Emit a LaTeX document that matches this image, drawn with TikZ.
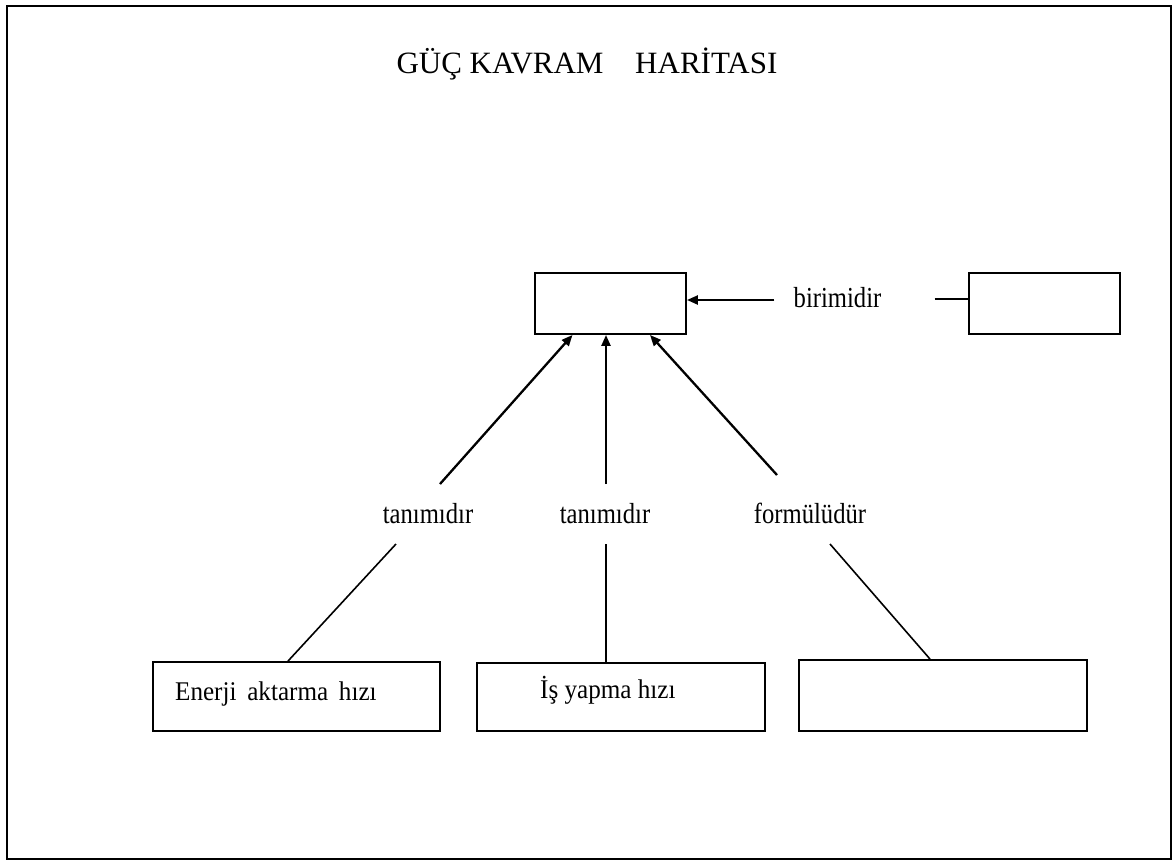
\documentclass[tikz,border=0pt]{standalone}
\usepackage{fontspec}
\setmainfont{Liberation Serif}
\newfontfamily\condfont[FakeStretch=0.85]{Liberation Serif}
\newfontfamily\boxfont[FakeStretch=0.93]{Liberation Serif}
\usetikzlibrary{arrows.meta}
\begin{document}
\begin{tikzpicture}[x=1pt,y=-1pt,
  frame/.style={draw,line width=2pt},
  box/.style={draw,line width=1.9pt,inner sep=0pt},
  lbl/.style={font=\condfont\fontsize{29}{34}\selectfont,inner sep=0pt,anchor=base},
  boxtext/.style={font=\boxfont\fontsize{27}{32}\selectfont,inner sep=0pt,anchor=base west},
  arr/.style={line width=2.3pt,-{Triangle[length=11pt,width=9pt]}},
  link/.style={line width=1.6pt}]
\useasboundingbox (0,0) rectangle (1173,862);
\draw[frame] (7,6) rectangle (1171,859);

% title
\node[font=\fontsize{31}{36}\selectfont,inner sep=0pt,anchor=base] (title) at (587,73)
  {GÜÇ KAVRAM\hspace{24pt} HARİTASI};

% boxes
\node[box,minimum width=151pt,minimum height=61pt] (top)  at (610.5,303.5) {};
\node[box,minimum width=151pt,minimum height=61pt] (unit) at (1044.5,303.5) {};
\node[box,minimum width=287pt,minimum height=69pt] (b1) at (296.5,696.5) {};
\node[box,minimum width=288pt,minimum height=68pt] (b2) at (621,697) {};
\node[box,minimum width=288pt,minimum height=71pt] (b3) at (943,695.5) {};

% box texts
\node[boxtext] (t1) at (175,700) {Enerji\, aktarma\, hızı};
\node[boxtext] (t2) at (540,698) {İş yapma hızı};

% link labels
\node[lbl] (birim) at (837.5,307) {birimidir};
\node[lbl] (lab1) at (428,523) {tanımıdır};
\node[lbl] (lab2) at (605,523) {tanımıdır};
\node[lbl] (lab3) at (810,523) {formülüdür};

% unit link: arrow into the top box, plain line to the unit box
\coordinate (bl) at ([shift={(-19,-7)}]birim.base west);
\coordinate (br) at ([shift={(53,-8)}]birim.base east);
\draw[arr] (bl) -- (top.east |- bl);
\draw[link] (br) -- (unit.west |- br);

% arrows from the labels up to the top box
\draw[arr] ([shift={(12,-39)}]lab1.base) -- ([xshift=-38pt]top.south);
\draw[arr] ([shift={(1,-39)}]lab2.base) -- ([xshift=-4.5pt]top.south);
\draw[arr] ([shift={(-33,-48)}]lab3.base) -- ([xshift=39.5pt]top.south);

% lines from the labels down to the lower boxes
\draw[link] ([shift={(-32,21)}]lab1.base) -- ([xshift=-8.5pt]b1.north);
\draw[link] ([shift={(1,21)}]lab2.base) -- ([xshift=-15pt]b2.north);
\draw[link] ([shift={(20,21)}]lab3.base) -- ([xshift=-13pt]b3.north);
\end{tikzpicture}
\end{document}
